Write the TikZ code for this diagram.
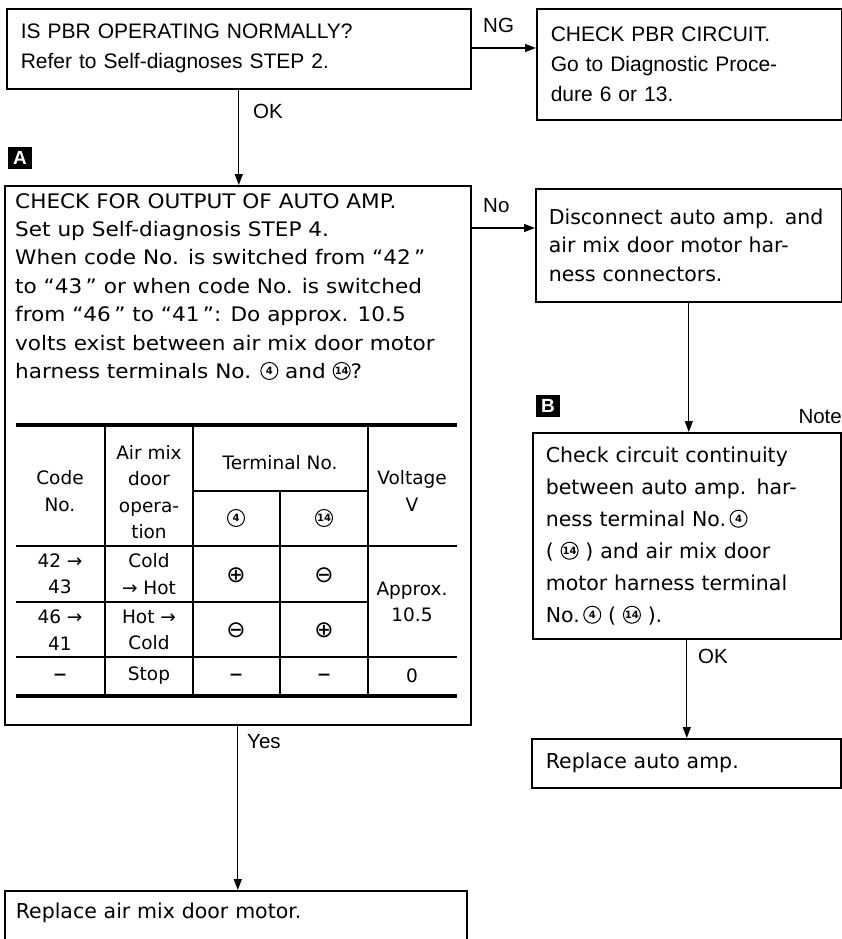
\documentclass[tikz,border=0pt]{standalone}
\usepackage{fontspec}
\setmainfont{Liberation Sans}
\newfontfamily\widefont{DejaVu Sans}
\newfontfamily\widerfont[FakeStretch=1.08]{DejaVu Sans}
\usetikzlibrary{positioning,arrows.meta}

% circled terminal numbers (no font has the circled 14)
\newcommand{\cnum}[1]{\tikz[baseline={([yshift=-7.5pt]cn.center)}]\node[circle,draw,
  anchor=center,text width={},text height={},text depth={},align=center,
  inner sep=0pt,minimum size=17pt,line width=1pt,text=black,
  font=\widefont\bfseries\fontsize{10}{10}\selectfont] (cn) {#1};}
\newcommand{\fnA}{\fontsize{21}{30}\selectfont}
\newcommand{\fnB}{\widerfont\fontsize{20}{28.4}\selectfont}
\newcommand{\fnC}{\widefont\fontsize{20.5}{32}\selectfont}
\newcommand{\fnD}{\widefont\fontsize{20.5}{28.5}\selectfont}
\newcommand{\fnT}{\widefont\fontsize{18.5}{26.5}\selectfont}
\newcommand{\fnL}{\fontsize{20.5}{24}\selectfont}
\tikzset{
  chkbox/.style={draw,line width=1.6pt,anchor=north west,inner ysep=0pt,
                 align=left},
  edge/.style={-{Triangle[length=11pt,width=8pt]},line width=1.3pt},
  lbl/.style={font=\fnL,inner sep=0pt,anchor=base west},
  tag/.style={fill=black,text=white,font=\bfseries\fontsize{19}{19}\selectfont,
              minimum width=24pt,minimum height=22pt,inner sep=0pt},
  cell/.style={font=\fnT,align=center,inner sep=0pt},
  sign/.style={font=\widefont\fontsize{23}{23}\selectfont,inner sep=0pt},
  dashsign/.style={font=\widefont\fontsize{27}{27}\selectfont,inner sep=0pt},
  hrule/.style={line width=3.5pt},
  mrule/.style={line width=1.8pt},
  vrule/.style={line width=1.4pt},
}

\begin{document}
\begin{tikzpicture}[x=1pt,y=-1pt]
\path[use as bounding box,clip] (0,0) rectangle (842,939);
% question boxes
\node[chkbox,font=\fnA,inner xsep=14pt,text width=436pt,minimum height=80pt]
  (q1) at (6,8) {IS PBR OPERATING NORMALLY?\\Refer to Self-diagnoses STEP 2.};
\node[chkbox,font=\fnA,inner xsep=14pt,text width=277pt,minimum height=111pt]
  (r1) at (536,8) {CHECK PBR CIRCUIT.\\Go to Diagnostic Proce-\\dure 6 or 13.};
\node[chkbox,minimum width=466pt,minimum height=539pt] (q2) at (4,185) {};
\node[anchor=north west,inner sep=0pt,align=left,font=\fnB] (q2t) at (15,193)
  {CHECK FOR OUTPUT OF AUTO AMP.\\
   Set up Self-diagnosis STEP 4.\\
   When code No. is switched from “42\,”\\
   to “43\,” or when code No. is switched\\
   from “46\,” to “41\,”: Do approx. 10.5\\
   volts exist between air mix door motor\\
   harness terminals No. \cnum{4} and \cnum{14}?};
\node[chkbox,font=\fnD,inner xsep=13pt,text width=280pt,minimum height=113pt]
  (a1) at (535,188) {Disconnect auto amp. and\\air mix door motor har-\\ness connectors.};
\node[chkbox,font=\fnC,inner xsep=13pt,text width=282pt,minimum height=206pt]
  (c1) at (532,432) {Check circuit continuity\\between auto amp. har-\\
   ness terminal No.\,\cnum{4}\\( \cnum{14} ) and air mix door\\
   motor harness terminal\\No.\,\cnum{4} ( \cnum{14} ).};
\node[chkbox,font=\fnC,inner xsep=14pt,text width=281pt,minimum height=49pt]
  (r2) at (531,738) {Replace auto amp.};
\node[chkbox,font=\fnC,inner xsep=11pt,inner ysep=6pt,text width=440pt,
      text height=21.5pt,text depth=40pt] (r3) at (4,890) {Replace air mix door motor.};
% section tags
\node[tag] (tagA) at (20,158) {A};
\node[tag] (tagB) at (548,406) {B};
\node[lbl,anchor=base east] (note) at (842,423) {Note};
% table in q2
\draw[hrule] (16,425) -- (457,425) (16,696) -- (457,696);
\draw[mrule] (16,546) -- (457,546) (16,657) -- (457,657) (16,602) -- (368,602);
\draw[vrule] (193,491) -- (368,491);
\foreach \x in {105,193,368} \draw[vrule] (\x,425) -- (\x,696);
\draw[vrule] (280,491) -- (280,696);
\node[cell] (hcode) at (60,491) {Code\\No.};
\node[cell] (hdoor) at (149,492) {Air mix\\door\\opera-\\tion};
\node[cell] (hterm) at (280,463) {Terminal No.};
\node[cell] (hfour) at (236,518) {\cnum{4}};
\node[cell] (hfourteen) at (324,518) {\cnum{14}};
\node[cell] (hvolt) at (412,491) {Voltage\\V};
\node[cell] (code1) at (60,574) {42 →\\43};
\node[cell] (oper1) at (149,574) {Cold\\→ Hot};
\node[sign] (fourA) at (236,575) {⊕};
\node[sign] (fourteenA) at (324,575) {⊖};
\node[cell] (code2) at (60,630) {46 →\\41};
\node[cell] (oper2) at (149,630) {Hot →\\Cold};
\node[sign] (fourB) at (236,630) {⊖};
\node[sign] (fourteenB) at (324,630) {⊕};
\node[cell] (approx) at (412,602) {Approx.\\10.5};
\node[dashsign] (code3) at (60,678) {–};
\node[cell] (oper3) at (149,676) {Stop};
\node[dashsign] (fourC) at (236,678) {–};
\node[dashsign] (fourteenC) at (324,678) {–};
\node[cell] (zero) at (412,676) {0};
% connectors
\draw[edge] ([yshift=-40pt]q1.north east) -- ([yshift=-40pt]r1.north west);
\draw[edge] (q1.south) -- (q1.south |- q2.north);
\draw[edge] ([yshift=-43pt]q2.north east) -- ([yshift=-40pt]a1.north west);
\draw[edge] (a1.south) -- (a1.south |- c1.north);
\draw[edge] (q2.south) -- (q2.south |- r3.north);
\draw[edge] (c1.south) -- (c1.south |- r2.north);
\node[lbl] (ng) at (483,33) {NG};
\node[lbl] (okA) at (253,118) {OK};
\node[lbl] (no) at (483,212) {No};
\node[lbl] (yes) at (247,748) {Yes};
\node[lbl] (okB) at (698,663) {OK};
\end{tikzpicture}
\end{document}
